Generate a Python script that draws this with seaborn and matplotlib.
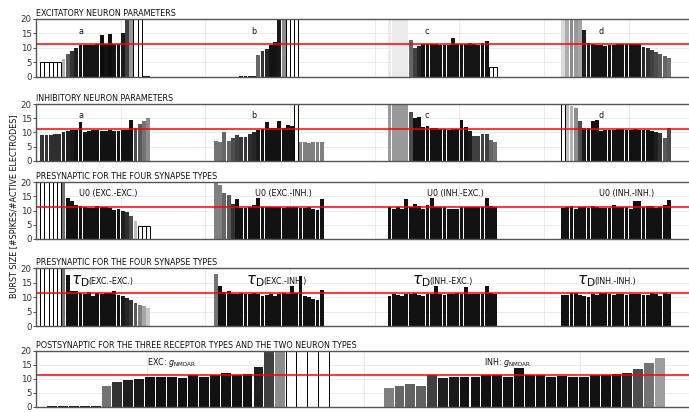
import numpy as np
import pandas as pd
import matplotlib
matplotlib.use("Agg")
import matplotlib.pyplot as plt
import seaborn as sns

REF = 11.3          # reference burst size (red line)
INVALID = -1        # tone flag: no valid bursting (drawn as open bar)

# ---------------- panel titles / labels ----------------
titles = ["EXCITATORY NEURON PARAMETERS",
          "INHIBITORY NEURON PARAMETERS",
          "PRESYNAPTIC FOR THE FOUR SYNAPSE TYPES",
          "PRESYNAPTIC FOR THE FOUR SYNAPSE TYPES",
          "POSTSYNAPTIC FOR THE THREE RECEPTOR TYPES AND THE TWO NEURON TYPES"]
group_letters = ["a", "b", "c", "d"]
u0_labels = ["U0 (EXC.-EXC.)", "U0 (EXC.-INH.)", "U0 (INH.-EXC.)", "U0 (INH.-INH.)"]
tau_labels = ["(EXC.-EXC.)", "(EXC.-INH.)", "(INH.-EXC.)", "(INH.-INH.)"]
post_labels = ["EXC: $g_{\\mathrm{NMDAR}}$", "INH: $g_{\\mathrm{NMDAR}}$"]
ylabel = "BURST SIZE [#SPIKES/#ACTIVE ELECTRODES]"

# ---------------- data: burst sizes and tone (grey level of a bar) ----------------
# Panel 1: excitatory neuron parameters
p1a_val = [5, 5, 5, 5, 5, 6.0, 8.0, 9.0, 10.0, 10.8, 10.8, 10.8, 11.0, 11.2, 14.3, 11.3, 14.7,
           11.2, 11.2, 15.0, 22, 25, 25, 25, 0.2, 0.2]
p1a_tone = [-1] * 5 + [0.7, 0.35, 0.2, 0.12, 0.08, 0.08, 0.08, 0.08, 0.08, 0.05, 0.08, 0.05,
                       0.08, 0.08, 0.1, 0.25, 0.6, -1, -1, 0.1, 0.1]
p1b_val = [0] * 6 + [0.2] * 4 + [7.5, 8.7, 9.5, 11.0, 12.0, 22, 25] + [25] * 3 + [0] * 6
p1b_tone = [0.1] * 10 + [0.4, 0.2, 0.15, 0.08, 0.08, 0.1, 0.55] + [-1] * 3 + [0.1] * 6
p1c_val = [25] * 5 + [12.8, 10.0, 10.6, 11.3, 11.2, 11.2, 11.2, 11.0, 11.1, 11.0, 13.5, 11.3,
                      11.2, 11.2, 11.5, 11.2, 11.1, 11.5, 12.2] + [3.3, 3.3]
p1c_tone = [0.92] * 5 + [0.4, 0.25, 0.15] + [0.08] * 16 + [-1, -1]
p1d_val = [25] * 5 + [16.1, 11.8, 11.2, 11.1, 10.8, 10.6, 10.8, 10.8, 11.3, 11.2, 11.3, 11.3,
                      11.2, 11.2, 10.3, 9.8, 9.3, 8.4, 7.7, 7.1, 6.6]
p1d_tone = [0.85, 0.68, 0.55, 0.6, 0.65] + [0.12, 0.1] + [0.08] * 12 + [0.15, 0.2, 0.25, 0.3,
                                                                      0.35, 0.4, 0.45]
# Panel 2: inhibitory neuron parameters
p2a_val = [9.0, 9.0, 9.2, 9.5, 9.3, 10.0, 10.5, 10.7, 10.8, 13.6, 10.2, 10.5, 11.0, 11.0, 10.4,
           10.6, 11.0, 10.6, 10.6, 11.0, 11.0, 14.4, 11.6, 13.0, 14.0, 15.2]
p2a_tone = [0.2, 0.2, 0.18, 0.18, 0.18, 0.15, 0.12, 0.1] + [0.07] * 14 + [0.3, 0.35, 0.45, 0.55]
p2b_val = [7.0, 6.5, 10.2, 6.8, 8.0, 9.0, 8.5, 8.5, 9.5, 10.2, 10.7, 11.2, 13.5, 11.5, 11.5,
           13.9, 11.5, 12.5, 12.1, 25, 6.6, 6.5, 6.4, 6.5, 6.5, 6.5]
p2b_tone = [0.45, 0.45, 0.4, 0.4, 0.3, 0.25, 0.22, 0.22, 0.18, 0.15, 0.1] + [0.07] * 8 + [-1] + [0.5] * 6
p2c_val = [25] * 5 + [17.1, 15.0, 15.3, 11.9, 12.1, 11.4, 11.4, 11.3, 11.1, 10.7, 11.3, 11.2,
                      14.3, 11.8, 10.6, 8.8, 8.8, 9.3, 9.3, 7.2, 6.7]
p2c_tone = [0.6] * 5 + [0.3] + [0.07] * 13 + [0.1] + [0.25] * 4 + [0.4, 0.45]
p2d_val = [25, 19.8, 19.3, 18.6, 13.9, 11.6, 11.5, 14.0, 14.3, 10.5, 10.7, 10.8, 10.8, 11.1,
           11.2, 10.8, 11.0, 11.2, 10.8, 11.0, 10.8, 10.6, 10.2, 9.8, 8.1, 11.4]
p2d_tone = [-1, 0.75, 0.7, 0.55, 0.3, 0.1] + [0.07] * 16 + [0.12, 0.2, 0.35, 0.3]
# Panel 3: presynaptic U0
p3a_val = [25] * 6 + [25] + [14.5, 13.3, 12.0, 11.5, 11.3, 11.0, 11.0, 11.5, 11.3, 11.2, 10.8,
                             10.3, 10.4, 9.8, 9.3, 8.0] + [6.2] + [4.7] * 3
p3a_tone = [-1] * 6 + [0.45] + [0.07] * 13 + [0.12, 0.18, 0.3] + [0.75] + [-1] * 3
p3b_val = [25, 18.9, 16.1, 15.3, 12.3, 14.2, 11.0, 10.9, 11.3, 11.8, 14.3, 11.3, 11.2, 11.2,
           11.2, 11.2, 10.8, 11.2, 11.2, 11.2, 10.8, 11.0, 11.2, 10.5, 10.3, 14.0]
p3b_tone = [0.5, 0.5, 0.4, 0.35, 0.2] + [0.07] * 21
p3c_val = [11.2, 10.5, 11.2, 10.6, 14.0, 11.4, 12.4, 11.5, 10.7, 11.8, 14.5, 11.3, 11.2, 11.3,
           10.6, 10.6, 10.6, 11.3, 11.3, 11.3, 11.3, 11.3, 11.4, 14.5, 11.7, 11.3]
p3c_tone = [0.07] * 26
p3d_val = [10.9, 11.2, 11.5, 10.6, 11.3, 11.3, 11.0, 11.5, 11.3, 10.8, 10.8, 11.0, 12.0, 11.3,
           11.3, 11.3, 10.7, 13.5, 13.5, 11.2, 11.5, 11.5, 11.0, 11.2, 12.1, 13.6]
p3d_tone = [0.07] * 26
# Panel 4: presynaptic tau_D
p4a_val = [25] * 6 + [25, 17.7, 12.2, 12.2, 11.3, 11.2, 11.7, 10.5, 11.3, 11.0, 11.3, 11.6, 12.2,
                      10.7, 10.5, 9.7, 9.0, 8.0, 7.3, 6.8, 6.4]
p4a_tone = [-1] * 6 + [0.45] + [0.07] * 13 + [0.1, 0.15, 0.2, 0.35, 0.5, 0.65, 0.78]
p4b_val = [18.0, 13.8, 11.7, 12.2, 11.2, 11.2, 11.5, 11.2, 11.2, 11.3, 11.0, 10.5, 10.6, 11.0,
           10.4, 11.0, 11.6, 11.2, 13.8, 11.3, 17.2, 10.5, 10.0, 9.5, 9.0, 12.5]
p4b_tone = [0.45] + [0.07] * 25
p4c_val = [10.5, 11.0, 10.8, 10.5, 11.2, 11.0, 11.6, 10.8, 10.5, 11.0, 11.2, 13.8, 11.2, 10.8,
           11.0, 11.2, 11.3, 11.2, 13.5, 11.0, 11.2, 11.2, 11.2, 14.0, 11.5, 11.2]
p4c_tone = [0.07] * 26
p4d_val = [10.8, 10.8, 11.3, 11.6, 10.8, 10.5, 10.0, 11.2, 10.8, 11.3, 11.6, 11.2, 10.8, 11.2,
           11.2, 10.8, 11.2, 11.2, 11.0, 10.8, 10.8, 11.5, 11.2, 10.5, 11.3, 11.2]
p4d_tone = [0.07] * 26
# Panel 5: postsynaptic g_NMDAR
p5e_val = [0.3] * 5 + [7.5, 8.8, 9.6, 9.8, 10.8, 10.7, 10.6, 10.4, 11.2, 10.8, 11.3, 11.9, 11.2,
                       11.7, 14.2, 22, 25] + [25] * 4
p5e_tone = [0.1] * 5 + [0.45, 0.2, 0.12, 0.1] + [0.07] * 10 + [0.12, 0.25, 0.55] + [-1] * 4
p5i_val = [6.5, 7.5, 8.0, 7.5, 11.5, 10.3, 10.8, 10.6, 10.7, 11.2, 11.4, 10.8, 13.8, 11.2, 11.2,
           10.7, 10.9, 10.6, 10.6, 11.2, 11.4, 11.8, 12.2, 13.5, 15.8, 17.5]
p5i_tone = [0.5, 0.4, 0.38, 0.38, 0.25, 0.12, 0.1] + [0.07] * 15 + [0.15, 0.3, 0.45, 0.62]

# group start positions (bar index units)
starts4 = [1, 42, 83, 124]
starts4_first0 = [0, 42, 83, 124]
starts2 = [1, 32]

panels = [
    list(zip(starts4, [p1a_val, p1b_val, p1c_val, p1d_val], [p1a_tone, p1b_tone, p1c_tone, p1d_tone])),
    list(zip(starts4, [p2a_val, p2b_val, p2c_val, p2d_val], [p2a_tone, p2b_tone, p2c_tone, p2d_tone])),
    list(zip(starts4_first0, [p3a_val, p3b_val, p3c_val, p3d_val], [p3a_tone, p3b_tone, p3c_tone, p3d_tone])),
    list(zip(starts4_first0, [p4a_val, p4b_val, p4c_val, p4d_val], [p4a_tone, p4b_tone, p4c_tone, p4d_tone])),
    list(zip(starts2, [p5e_val, p5i_val], [p5e_tone, p5i_tone])),
]

# ---------------- figure ----------------
sns.set_theme(style="whitegrid")
plt.rcParams["font.family"] = ["DejaVu Sans"]
W, H = 689, 412
fig = plt.figure(figsize=(W / 100, H / 100), dpi=100)

axes_px = [(19, 76.5), (104, 160.7), (182, 239), (268.3, 326), (351, 406.5)]
left_px = 36
fs = 5.8


def native_unit(pos):
    u = np.unique(pos)
    return float(np.min(np.diff(u))) if len(u) > 1 else 1.0


def draw_panel(ax, groups):
    rows = []
    for start, vals, tones in groups:
        for i, (v, t) in enumerate(zip(vals, tones)):
            rows.append(dict(pos=start + i + 0.5, val=v, tone=t))
    df = pd.DataFrame(rows)
    df["id"] = [f"b{i}" for i in range(len(df))]
    valid = df[df.tone >= 0]
    invalid = df[df.tone < 0]
    pal = {r.id: (r.tone, r.tone, r.tone) for r in valid.itertuples()}
    sns.barplot(data=valid, x="pos", y="val", hue="id", palette=pal, native_scale=True,
                dodge=False, legend=False, width=0.9 / native_unit(valid.pos),
                errorbar=None, linewidth=0, saturation=1, ax=ax)
    if len(invalid):
        sns.barplot(data=invalid, x="pos", y="val", native_scale=True, color="white",
                    edgecolor="black", linewidth=0.7, width=1.0 / native_unit(invalid.pos),
                    errorbar=None, saturation=1, ax=ax)


axs = []
for k, (top, bot) in enumerate(axes_px):
    ax = fig.add_axes([left_px / W, 1 - bot / H, 1 - left_px / W, (bot - top) / H])
    axs.append(ax)
    draw_panel(ax, panels[k])
    ax.axhline(REF, color="red", lw=1.1, zorder=5)
    ax.set_ylim(0, 20)
    ax.set_yticks([0, 5, 10, 15, 20])
    if k < 4:
        ax.set_xlim(0, (W - left_px) / 4.233)
        ax.set_xticks([20, 40, 60, 80, 100, 120, 140])
    else:
        ax.set_xlim(0, (W - left_px) / 10.85)
        ax.set_xticks([10.2, 30.2, 50.1])
    ax.set_xlabel("")
    ax.set_ylabel("")
    ax.grid(True, color="#e8e8e8", lw=0.6)
    ax.set_axisbelow(True)
    ax.tick_params(axis="x", length=0, labelbottom=False)
    ax.tick_params(axis="y", labelsize=6.2, length=2, width=0.6, pad=1, colors="#333333", left=True)
    for side in ["top", "bottom", "left"]:
        ax.spines[side].set_visible(True)
        ax.spines[side].set_color("#555555")
        ax.spines[side].set_linewidth(1.0)
    ax.spines["right"].set_visible(False)
    ax.set_title(titles[k], loc="left", fontsize=fs, pad=2.5, color="#111111")

# group labels
letter_x = [10.6, 51.5, 92.4, 133.6]
for ax in axs[:2]:
    for x, s in zip(letter_x, group_letters):
        ax.text(x, 15.8, s, fontsize=fs, ha="center", va="center", color="#111111")
u0_x = [17, 58.4, 99, 139.6]
for x, s in zip(u0_x, u0_labels):
    axs[2].text(x, 15.9, s, fontsize=fs, ha="center", va="center", color="#111111")
tau_x = [8.3, 49.6, 88.9, 127.9]
for x, s in zip(tau_x, tau_labels):
    t1 = axs[3].text(x, 14.6, r"$\tau_{\mathrm{D}}$", fontsize=11, ha="left", va="baseline",
                     color="#111111")
    axs[3].annotate(s, xy=(0.92, 0.42), xycoords=t1, fontsize=fs, ha="left", va="center",
                    color="#111111")
post_x = [10.2, 41.3]
for x, s in zip(post_x, post_labels):
    axs[4].text(x, 15.8, s, fontsize=fs, ha="left", va="center", color="#111111")

fig.text(14 / W, 0.5, ylabel, rotation=90, fontsize=fs, ha="center", va="center", color="#111111")

fig.savefig("out.png", dpi=100)
